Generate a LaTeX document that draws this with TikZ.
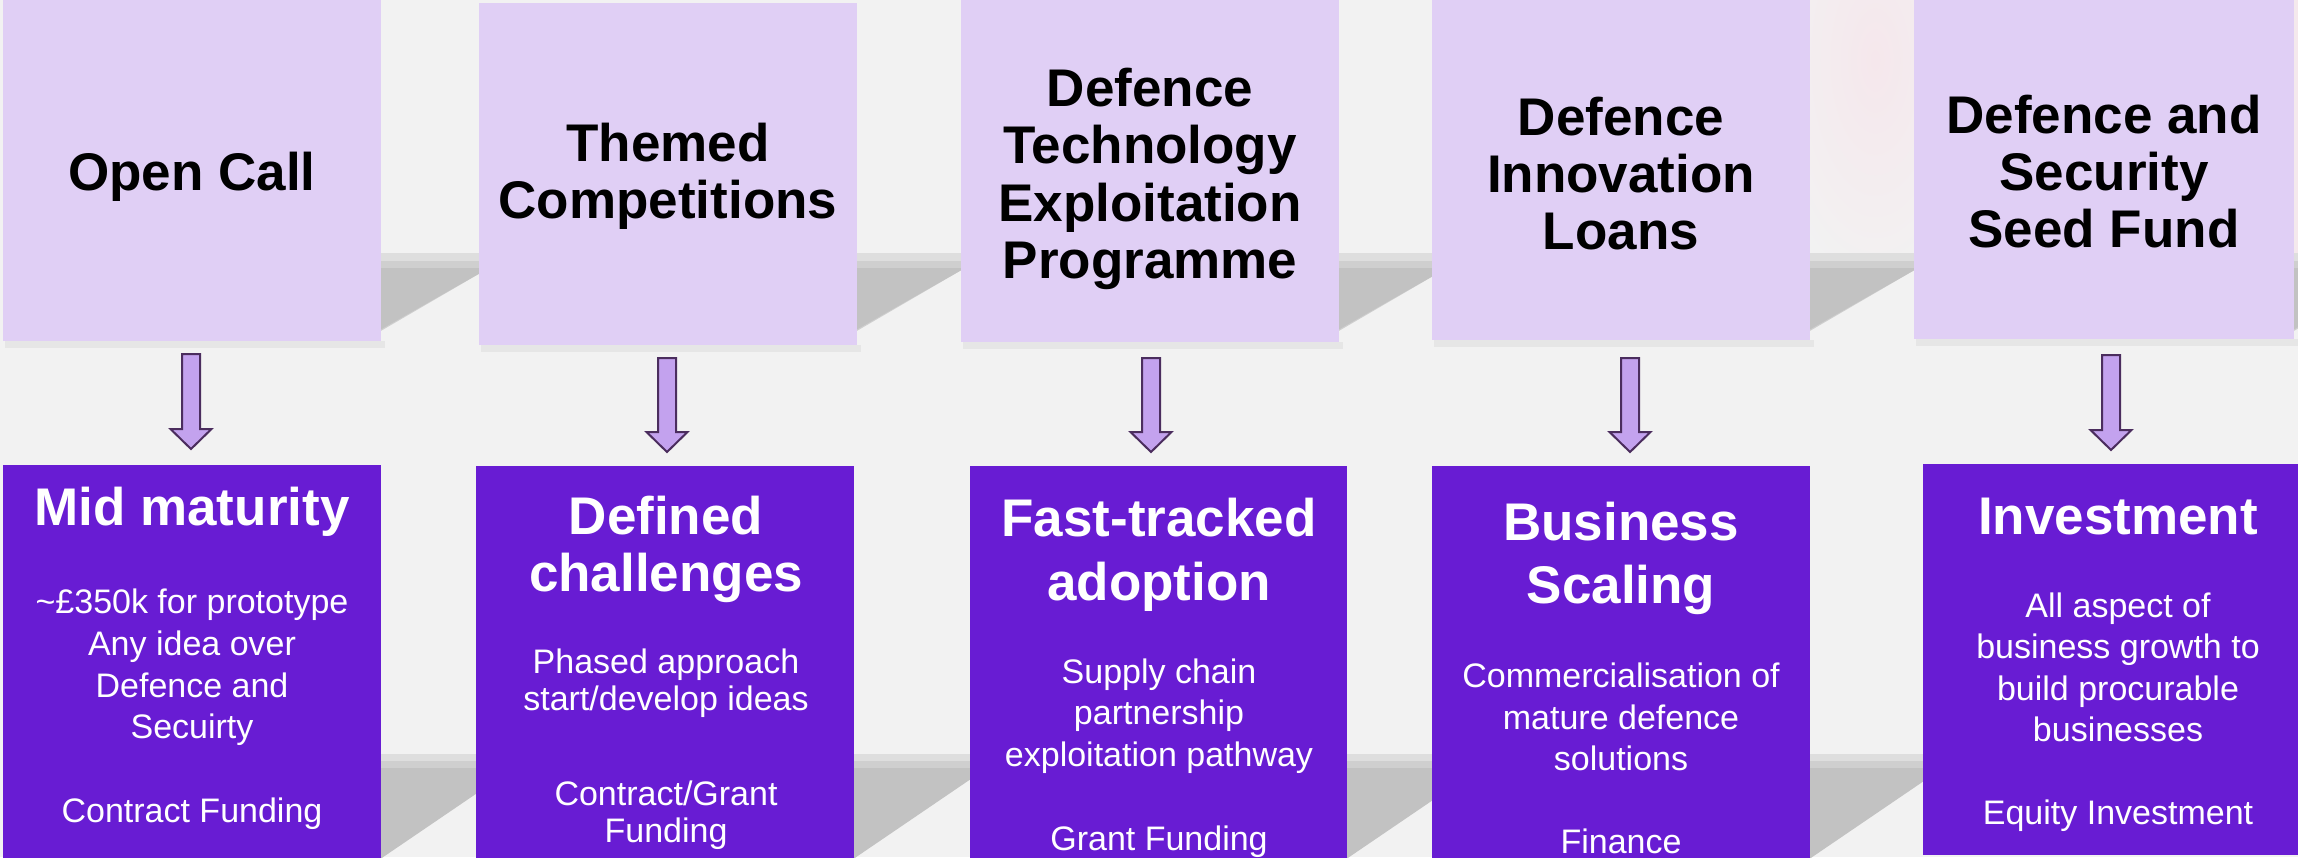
\documentclass[tikz,border=0pt]{standalone}
\usepackage{fontspec}
\setmainfont{Liberation Sans}
\usetikzlibrary{calc}
\definecolor{bgc}{HTML}{F2F2F2}
\definecolor{topc}{HTML}{E0CFF5}
\definecolor{botc}{HTML}{681CD3}
\definecolor{arrfill}{HTML}{C3A2EE}
\definecolor{arrline}{HTML}{4B2D5E}
\definecolor{shad}{HTML}{C2C2C2}
\definecolor{shadmid}{HTML}{CFCFCF}
\definecolor{shadlight}{HTML}{DEDEDE}
\definecolor{undershad}{HTML}{E6E6E6}
\definecolor{pinkglow}{HTML}{F5E7EC}
\tikzset{
  topbox/.style={fill=topc, draw=none, inner sep=0pt, outer sep=0pt, anchor=north west},
  botbox/.style={fill=botc, draw=none, inner sep=0pt, outer sep=0pt, anchor=north west},
  headtop/.style={font=\fontsize{53}{57}\selectfont\bfseries, text=black, inner sep=0pt, anchor=base},
  headbot/.style={font=\fontsize{53}{57}\selectfont\bfseries, text=white, inner sep=0pt, anchor=base},
  bodybot/.style={font=\fontsize{34}{41}\selectfont, text=white, inner sep=0pt, anchor=base},
  blockarrow/.style={fill=arrfill, draw=arrline, line width=2pt, line join=miter},
  shadowdark/.style={fill=shad, draw=none},
  shadowmid/.style={fill=shadmid, draw=none},
  shadowlight/.style={fill=shadlight, draw=none},
}
% box node: name, style, x1, y1, x2, y2
\newcommand\boxnode[6]{\node[#2, minimum width={#5-#3}, minimum height={#6-#4}] (#1) at (#3,#4) {};}
% block arrow between two named coordinates (shaft top, tip)
\newcommand\barrow[2]{\draw[blockarrow] ($(#1)+(-9,0)$) -- ($(#1)+(9,0)$) -- ($(#2)+(9,-20)$) -- ($(#2)+(20.5,-20)$) -- (#2) -- ($(#2)+(-20.5,-20)$) -- ($(#2)+(-9,-20)$) -- cycle;}
% perspective shadows behind a top box / bottom box, given right edge x
\newcommand\topshadow[1]{%
  \fill[shadowlight] (#1-100,339) -- (#1-15,339) -- (#1+130,253) -- (#1-100,253) -- cycle;
  \fill[shadowmid] (#1-100,339) -- (#1-14,339) -- (#1+120,261) -- (#1-100,261) -- cycle;
  \fill[shadowdark] (#1-100,339) -- (#1-17,339) -- (#1+108,268) -- (#1-100,268) -- cycle;}
\newcommand\botshadow[1]{%
  \fill[shadowlight] (#1-30,866) -- (#1+154,754) -- (#1-100,754) -- (#1-100,866) -- cycle;
  \fill[shadowmid] (#1-22,866) -- (#1+144,761) -- (#1-100,761) -- (#1-100,866) -- cycle;
  \fill[shadowdark] (#1-11,866) -- (#1+133,768) -- (#1-100,768) -- (#1-100,866) -- cycle;}
\begin{document}
\begin{tikzpicture}[x=1pt, y=-1pt]
\useasboundingbox (0,0) rectangle (2298,857);
\fill[bgc] (0,0) rectangle (2298,857);
% faint pink glow in the upper right
\shade[inner color=pinkglow, outer color=bgc] (1875,60) ellipse (110pt and 230pt);
\shade[left color=bgc, right color=pinkglow] (2280,0) rectangle (2298,260);
% shadows
\topshadow{381}\topshadow{857}\topshadow{1339}\topshadow{1810}\topshadow{2294}
\botshadow{381}\botshadow{854}\botshadow{1347}\botshadow{1810}
% soft shadow under the top boxes
\foreach \a/\b/\c in {3/381/341, 479/857/345, 961/1339/342, 1432/1810/340, 1914/2294/339}
  \fill[undershad] (\a+2,\c) rectangle (\b+4,\c+7);
% top boxes
\boxnode{t1}{topbox}{3}{0}{381}{341}
\boxnode{t2}{topbox}{479}{3}{857}{345}
\boxnode{t3}{topbox}{961}{0}{1339}{342}
\boxnode{t4}{topbox}{1432}{0}{1810}{340}
\boxnode{t5}{topbox}{1914}{0}{2294}{339}
% bottom boxes
\boxnode{b1}{botbox}{3}{465}{381}{862}
\boxnode{b2}{botbox}{476}{466}{854}{862}
\boxnode{b3}{botbox}{970}{466}{1347}{862}
\boxnode{b4}{botbox}{1432}{466}{1810}{862}
\boxnode{b5}{botbox}{1923}{464}{2312}{855}
% arrows
\coordinate (a1s) at (191,354); \coordinate (a1e) at (191,449);
\coordinate (a2s) at (667,358); \coordinate (a2e) at (667,452);
\coordinate (a3s) at (1151,358); \coordinate (a3e) at (1151,452);
\coordinate (a4s) at (1630,358); \coordinate (a4e) at (1630,452);
\coordinate (a5s) at (2111,355); \coordinate (a5e) at (2111,450);
\barrow{a1s}{a1e}\barrow{a2s}{a2e}\barrow{a3s}{a3e}\barrow{a4s}{a4e}\barrow{a5s}{a5e}
% top texts
\node[headtop] (t1a) at (192,190) {Open Call};
\node[headtop] (t2a) at (668,161) {Themed};
\node[headtop] (t2b) at (668,218) {Competitions};
\node[headtop] (t3a) at (1150,106) {Defence};
\node[headtop] (t3b) at (1150,163) {Technology};
\node[headtop] (t3c) at (1150,221) {Exploitation};
\node[headtop] (t3d) at (1150,278) {Programme};
\node[headtop] (t4a) at (1621,135) {Defence};
\node[headtop] (t4b) at (1621,192) {Innovation};
\node[headtop] (t4c) at (1621,249) {Loans};
\node[headtop] (t5a) at (2104,133) {Defence and};
\node[headtop] (t5b) at (2104,190) {Security};
\node[headtop] (t5c) at (2104,247) {Seed Fund};
% bottom texts: box 1
\node[headbot] (b1h) at (192,525) {Mid maturity};
\node[bodybot] (b1a) at (192,613) {\textasciitilde£350k for prototype};
\node[bodybot] (b1b) at (192,655) {Any idea over};
\node[bodybot] (b1c) at (192,697) {Defence and};
\node[bodybot] (b1d) at (192,738) {Secuirty};
\node[bodybot] (b1e) at (192,822) {Contract Funding};
% box 2
\node[headbot] (b2h) at (666,534) {Defined};
\node[headbot] (b2i) at (666,591) {challenges};
\node[bodybot] (b2a) at (666,673) {Phased approach};
\node[bodybot] (b2b) at (666,710) {start/develop ideas};
\node[bodybot] (b2c) at (666,805) {Contract/Grant};
\node[bodybot] (b2d) at (666,842) {Funding};
% box 3
\node[headbot] (b3h) at (1159,536) {Fast-tracked};
\node[headbot] (b3i) at (1159,600) {adoption};
\node[bodybot] (b3a) at (1159,683) {Supply chain};
\node[bodybot] (b3b) at (1159,724) {partnership};
\node[bodybot] (b3c) at (1159,766) {exploitation pathway};
\node[bodybot] (b3d) at (1159,850) {Grant Funding};
% box 4
\node[headbot] (b4h) at (1621,540) {Business};
\node[headbot] (b4i) at (1621,603) {Scaling};
\node[bodybot] (b4a) at (1621,687) {Commercialisation of};
\node[bodybot] (b4b) at (1621,729) {mature defence};
\node[bodybot] (b4c) at (1621,770) {solutions};
\node[bodybot] (b4d) at (1621,853) {Finance};
% box 5
\node[headbot] (b5h) at (2118,534) {Investment};
\node[bodybot] (b5a) at (2118,617) {All aspect of};
\node[bodybot] (b5b) at (2118,658) {business growth to};
\node[bodybot] (b5c) at (2118,700) {build procurable};
\node[bodybot] (b5d) at (2118,741) {businesses};
\node[bodybot] (b5e) at (2118,824) {Equity Investment};
\end{tikzpicture}
\end{document}
